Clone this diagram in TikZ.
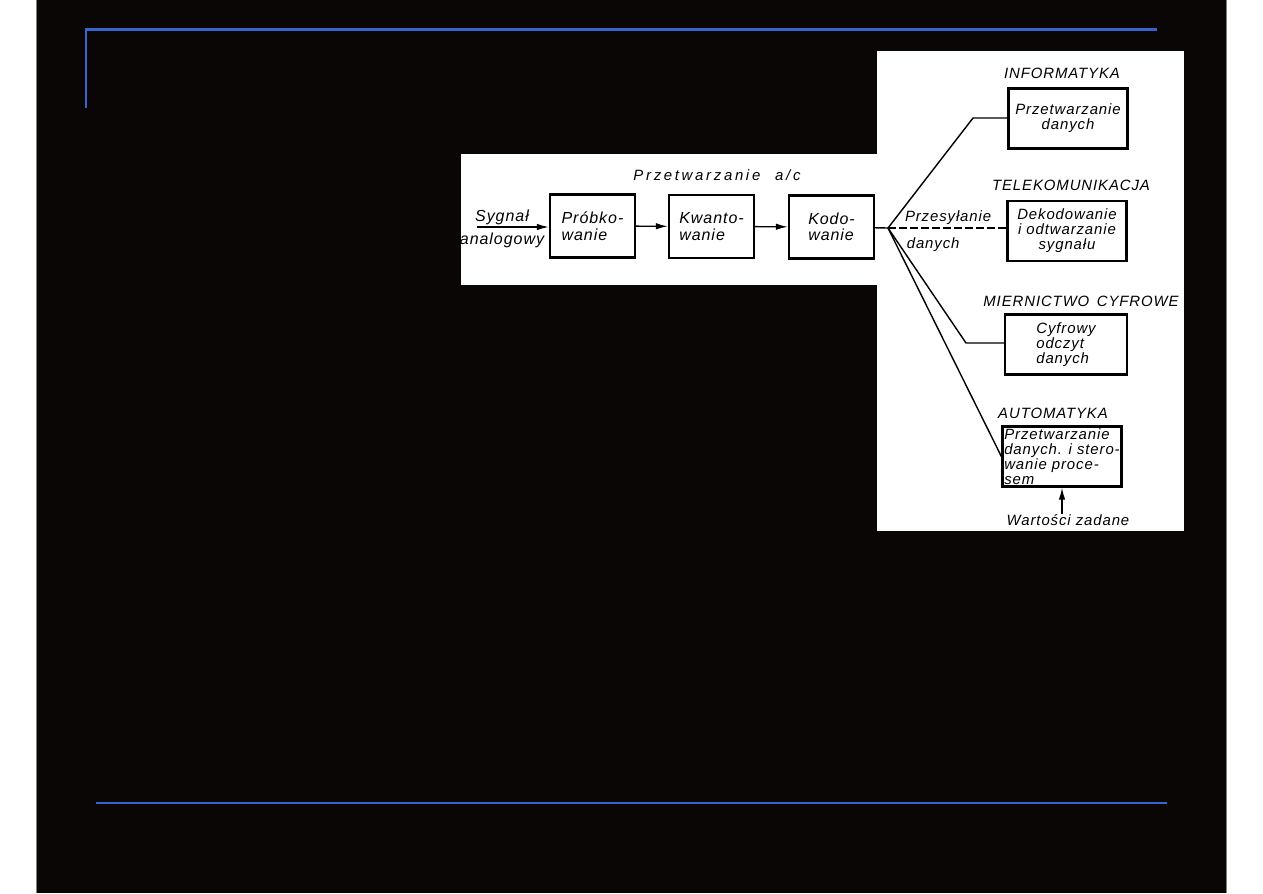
\documentclass[tikz,border=0pt]{standalone}
\usepackage{fontspec}
\setmainfont{Liberation Sans}
\newfontfamily\scanfont{Liberation Sans}[LetterSpace=6]
\newfontfamily\widefont{Liberation Sans}[LetterSpace=18]
\usetikzlibrary{arrows.meta}
\definecolor{slideblack}{RGB}{10,6,6}
\definecolor{slideblue}{RGB}{53,102,208}
\tikzset{
  block/.style={rectangle, draw=black, line width=1.3pt, inner sep=0pt, minimum width=1.7cm, minimum height=1.26cm, align=left},
  wideblock/.style={block, minimum width=2.38cm, minimum height=1.2cm, align=center},
  lbl/.style={font=\scanfont\itshape\fontsize{8.5}{8.6}\selectfont, inner sep=0pt},
  biglbl/.style={font=\scanfont\itshape\fontsize{9.1}{9.4}\selectfont},
  arrow/.style={line width=0.8pt,-{Latex[length=2.4mm,width=1.3mm]}},
  link/.style={line width=0.8pt},
  slideline/.style={slideblue, line width=1.2pt}
}
\begin{document}
\begin{tikzpicture}[x=0.02cm, y=-0.02cm, every node/.style={lbl}]
        \useasboundingbox (0,0) rectangle (1263,893);
        % slide
        \fill[white] (0,0) rectangle (1263,893);
        \fill[slideblack] (36.5,0) rectangle (1226.5,893);
        \draw[gray, line width=0.4pt] (36.5,0) -- (36.5,893);
        \draw[gray, line width=0.4pt] (1226.5,0) -- (1226.5,893);
        \draw[slideline] (86,108) -- (86,29.5) -- (1157,29.5);
        \draw[slideline] (96,803) -- (1167,803);
        % scanned panels
        \fill[white] (461,154) rectangle (877,285);
        \fill[white] (877,51) rectangle (1184,531);

        % a/c conversion
        \node (title) at (717,175) {\widefont\itshape Przetwarzanie\quad a/c};
        \node (sygnal) [biglbl, align=center] at (502,229) {Sygnał\\[4pt]analogowy};
        \coordinate (in) at (477,227);
        \node (probk) [block, biglbl] at (592.5,226) {Próbko-\\wanie};
        \node (kwant) [block, biglbl] at (711.5,226.5) {Kwanto-\\wanie};
        \node (kodow) [block, biglbl] at (831.5,227) {Kodo-\\wanie};
        \coordinate (br) at (888,228);

        % applications
        \node (infolbl) at (1062,73) {INFORMATYKA};
        \node (info) [wideblock] at (1068,118.5) {Przetwarzanie\\danych};
        \node (telelbl) at (1071,185) {TELEKOMUNIKACJA};
        \node (deko) [wideblock] at (1067,231) {Dekodowanie\\i odtwarzanie\\sygnału};
        \node (mierlbl) at (1081,301) {MIERNICTWO\ \,CYFROWE};
        \node (cyfr) [wideblock, minimum width=2.44cm, align=left] at (1066,344.5) {Cyfrowy\\odczyt\\danych};
        \node (autolbl) at (1053,413) {AUTOMATYKA};
        \node (auto) [wideblock, align=left] at (1062,456.5) {Przetwarzanie\\danych. i stero-\\wanie proce-\\sem};
        \node (wart) at (1068,520) {Wartości zadane};
        \coordinate (infobend) at (973,118);
        \coordinate (cyfrbend) at (966,343);

        \draw [arrow] (in) -- (in -| probk.west);
        \draw [arrow] (probk) -- (kwant);
        \draw [arrow] (kwant) -- (kodow);
        \draw [link] (kodow) -- (br);
        \draw [link] (br) -- (infobend) -- (info.west |- infobend);
        \draw [link, dash pattern=on 1.6mm off 0.6mm] (br) -- node[above=1.5pt, xshift=0.5pt] (przes) {Przesyłanie} node[below=5pt, xshift=-8pt] (danych) {danych} (br -| deko.west);
        \draw [link] (br) -- (cyfrbend) -- (cyfr.west |- cyfrbend);
        \draw [link] (br) -- (auto.west);
        \draw [arrow] (auto.south |- wart.north) -- (auto.south);
    \end{tikzpicture}
\end{document}
